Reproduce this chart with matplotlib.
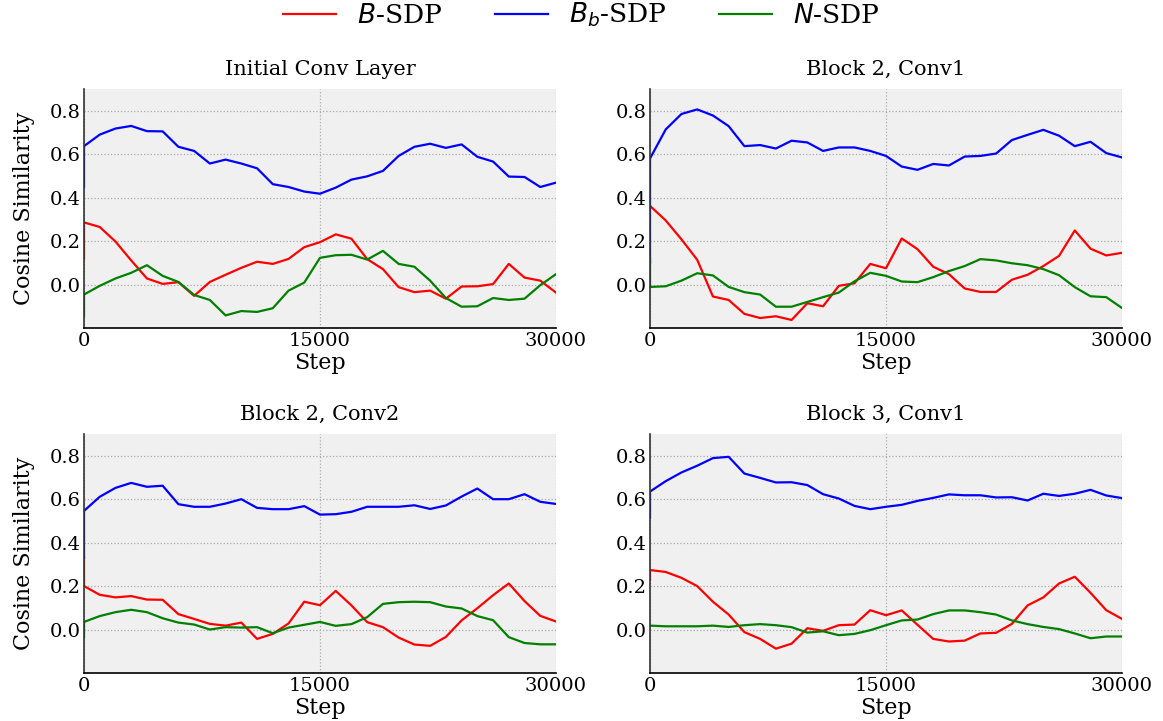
import matplotlib
matplotlib.use("Agg")
import matplotlib.pyplot as plt

plt.rcParams['font.family'] = 'DejaVu Serif'

# logged steps (first entry is the step-0 probe, then every 1000 steps)
steps = [0, 0, 1000, 2000, 3000, 4000, 5000, 6000, 7000, 8000, 9000, 10000,
         11000, 12000, 13000, 14000, 15000, 16000, 17000, 18000, 19000, 20000,
         21000, 22000, 23000, 24000, 25000, 26000, 27000, 28000, 29000, 30000]

titles = ["Initial Conv Layer", "Block 2, Conv1", "Block 2, Conv2", "Block 3, Conv1"]

b_sdp = [
    [0.12, 0.286, 0.265, 0.198, 0.111, 0.028, 0.003, 0.011, -0.052, 0.012, 0.045, 0.077,
     0.105, 0.095, 0.118, 0.172, 0.195, 0.231, 0.211, 0.117, 0.071, -0.012, -0.035,
     -0.028, -0.065, -0.009, -0.008, 0.002, 0.095, 0.032, 0.018, -0.037],
    [0.36, 0.362, 0.295, 0.208, 0.114, -0.055, -0.071, -0.135, -0.154, -0.146, -0.163, -0.086,
     -0.100, -0.006, 0.006, 0.095, 0.075, 0.212, 0.163, 0.082, 0.048, -0.018, -0.034,
     -0.034, 0.022, 0.045, 0.085, 0.132, 0.249, 0.165, 0.134, 0.146],
    [0.33, 0.200, 0.160, 0.148, 0.154, 0.138, 0.137, 0.071, 0.049, 0.026, 0.018, 0.032,
     -0.043, -0.020, 0.028, 0.128, 0.112, 0.178, 0.111, 0.034, 0.011, -0.037, -0.069,
     -0.075, -0.034, 0.042, 0.098, 0.158, 0.212, 0.131, 0.063, 0.037],
    [0.23, 0.274, 0.265, 0.238, 0.200, 0.128, 0.069, -0.012, -0.043, -0.088, -0.065, 0.006,
     -0.006, 0.020, 0.023, 0.089, 0.066, 0.088, 0.022, -0.043, -0.055, -0.051, -0.018,
     -0.015, 0.026, 0.111, 0.148, 0.212, 0.243, 0.169, 0.089, 0.049],
]

bb_sdp = [
    [0.45, 0.637, 0.690, 0.718, 0.730, 0.706, 0.705, 0.634, 0.615, 0.557, 0.575, 0.557,
     0.535, 0.462, 0.449, 0.428, 0.418, 0.446, 0.483, 0.498, 0.523, 0.592, 0.634,
     0.648, 0.629, 0.645, 0.588, 0.566, 0.497, 0.495, 0.449, 0.469],
    [0.10, 0.580, 0.714, 0.785, 0.806, 0.778, 0.729, 0.637, 0.642, 0.626, 0.662, 0.654,
     0.615, 0.631, 0.631, 0.615, 0.592, 0.543, 0.528, 0.555, 0.548, 0.589, 0.592,
     0.603, 0.665, 0.689, 0.712, 0.685, 0.637, 0.657, 0.605, 0.585],
    [0.33, 0.546, 0.611, 0.652, 0.675, 0.657, 0.662, 0.577, 0.565, 0.565, 0.580, 0.600,
     0.560, 0.554, 0.554, 0.568, 0.529, 0.531, 0.542, 0.565, 0.565, 0.565, 0.572,
     0.555, 0.571, 0.612, 0.649, 0.600, 0.600, 0.623, 0.588, 0.578],
    [0.515, 0.635, 0.683, 0.723, 0.754, 0.789, 0.795, 0.718, 0.698, 0.677, 0.678, 0.665,
     0.623, 0.603, 0.569, 0.554, 0.565, 0.574, 0.592, 0.606, 0.622, 0.618, 0.618,
     0.608, 0.609, 0.594, 0.625, 0.615, 0.625, 0.643, 0.617, 0.605],
]

n_sdp = [
    [-0.145, -0.046, -0.006, 0.028, 0.054, 0.089, 0.040, 0.012, -0.048, -0.071, -0.142, -0.122,
     -0.126, -0.109, -0.028, 0.009, 0.123, 0.135, 0.137, 0.115, 0.155, 0.095, 0.082,
     0.018, -0.062, -0.102, -0.100, -0.062, -0.071, -0.065, -0.003, 0.048],
    [0.12, -0.011, -0.008, 0.018, 0.052, 0.042, -0.011, -0.035, -0.046, -0.102, -0.102, -0.080,
     -0.058, -0.037, 0.015, 0.054, 0.040, 0.014, 0.011, 0.034, 0.062, 0.085, 0.117,
     0.111, 0.098, 0.089, 0.071, 0.043, -0.012, -0.054, -0.058, -0.108],
    [-0.035, 0.035, 0.062, 0.080, 0.091, 0.080, 0.052, 0.032, 0.023, 0.000, 0.011, 0.009,
     0.011, -0.017, 0.009, 0.022, 0.035, 0.017, 0.025, 0.057, 0.118, 0.126, 0.128,
     0.126, 0.106, 0.097, 0.062, 0.043, -0.035, -0.062, -0.068, -0.068],
    [0.018, 0.018, 0.015, 0.015, 0.015, 0.018, 0.012, 0.020, 0.025, 0.020, 0.011, -0.014,
     -0.008, -0.026, -0.020, -0.003, 0.020, 0.042, 0.046, 0.071, 0.088, 0.088, 0.080,
     0.069, 0.042, 0.025, 0.012, 0.002, -0.018, -0.040, -0.032, -0.032],
]

fig = plt.figure(figsize=(11.63, 7.21), dpi=100)
W, H = 1163, 721
boxes = [(84, 89), (650, 89), (84, 434), (650, 434)]  # left, top in pixels
aw, ah = 472, 239

for k, (lx, ty) in enumerate(boxes):
    ax = fig.add_axes([lx / W, 1 - (ty + ah) / H, aw / W, ah / H])
    ax.set_facecolor('#f0f0f0')
    l1, = ax.plot(steps, b_sdp[k], color='red', lw=1.6, label='$B$-SDP')
    l2, = ax.plot(steps, bb_sdp[k], color='blue', lw=1.6, label='$B_b$-SDP')
    l3, = ax.plot(steps, n_sdp[k], color='green', lw=1.6, label='$N$-SDP')
    ax.set_xlim(0, 30000)
    ax.set_ylim(-0.2, 0.9)
    ax.set_xticks([0, 15000, 30000])
    ax.set_yticks([0.0, 0.2, 0.4, 0.6, 0.8])
    ax.grid(True, color='#aaaaaa', linestyle=':', linewidth=0.9)
    ax.set_axisbelow(True)
    for s in ['top', 'right']:
        ax.spines[s].set_visible(False)
    ax.spines['left'].set_color('#333333')
    ax.spines['left'].set_linewidth(1.2)
    ax.spines['bottom'].set_linewidth(1.2)
    ax.tick_params(length=0, labelsize=14)
    ax.tick_params(axis='x', pad=3)
    ax.tick_params(axis='y', pad=2)
    ax.set_title(titles[k], fontsize=15, pad=10)
    ax.set_xlabel('Step', fontsize=16, labelpad=1)
    if k % 2 == 0:
        ax.set_ylabel('Cosine Similarity', fontsize=16, labelpad=11)

fig.legend(handles=[l1, l2, l3], loc='center', bbox_to_anchor=(0.5, 1 - 15 / H),
           ncol=3, frameon=False, fontsize=19)

fig.savefig('out.png', dpi=100)
